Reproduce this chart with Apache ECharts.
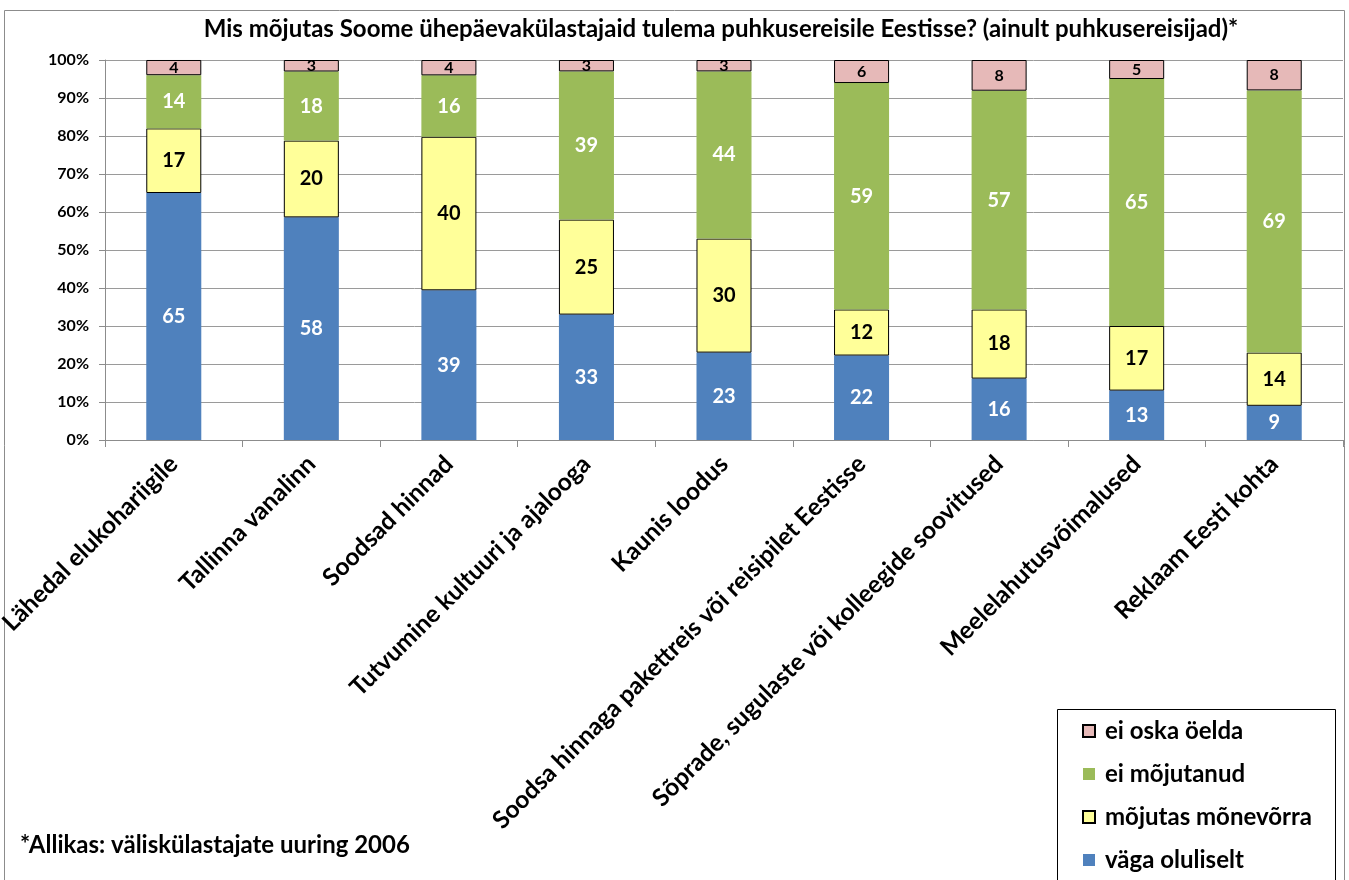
<!DOCTYPE html>
<html>
<head>
<meta charset="utf-8">
<script src="https://cdn.jsdelivr.net/npm/echarts@6/dist/echarts.min.js"></script>
<style>
  html, body { margin: 0; padding: 0; background: #fff; }
  #chart { width: 1349px; height: 880px; }
</style>
</head>
<body>
<div id="chart"></div>
<script>
const categories = [
  'Lähedal elukohariigile',
  'Tallinna vanalinn',
  'Soodsad hinnad',
  'Tutvumine kultuuri ja ajalooga',
  'Kaunis loodus',
  'Soodsa hinnaga pakettreis või reisipilet Eestisse',
  'Sõprade, sugulaste või kolleegide soovitused',
  'Meelelahutusvõimalused',
  'Reklaam Eesti kohta'
]
const vagaOluliselt = [65, 58, 39, 33, 23, 22, 16, 13, 9]
const mojutasMonevorra = [17, 20, 40, 25, 30, 12, 18, 17, 14]
const eiMojutanud = [14, 18, 16, 39, 44, 59, 57, 65, 69]
const eiOskaOelda = [4, 3, 4, 3, 3, 6, 8, 5, 8]
const yTicks = [0, 10, 20, 30, 40, 50, 60, 70, 80, 90, 100]

const FONT = 'Lato'

// 100% stack: each bar is scaled to its own total, labels keep the raw value
const totals = categories.map((c, i) =>
  vagaOluliselt[i] + mojutasMonevorra[i] + eiMojutanud[i] + eiOskaOelda[i])
const share = (arr) => arr.map((v, i) => ({ value: v / totals[i] * 100, raw: v }))

function makeSeries(name, arr, color, labelColor, labelSize, bordered) {
  return {
    name: name,
    type: 'bar',
    stack: 'total',
    barWidth: '40%',
    data: share(arr),
    itemStyle: {
      color: color,
      borderColor: bordered ? '#000' : color,
      borderWidth: bordered ? 1 : 0
    },
    label: {
      show: true,
      position: 'inside',
      color: labelColor,
      fontFamily: FONT,
      fontWeight: 'bold',
      fontSize: labelSize,
      formatter: (p) => p.data.raw
    },
    emphasis: { disabled: true }
  }
}

const chart = echarts.init(document.getElementById('chart'))
chart.setOption({
  animation: false,
  backgroundColor: '#fff',
  textStyle: { fontFamily: FONT },
  title: {
    text: 'Mis mõjutas Soome ühepäevakülastajaid tulema puhkusereisile Eestisse? (ainult puhkusereisijad)*',
    left: 716,
    top: 12,
    textAlign: 'center',
    textStyle: { fontFamily: FONT, fontWeight: 'bold', fontSize: 24, color: '#000' }
  },
  legend: {
    orient: 'vertical',
    left: 1082,
    top: 719,
    padding: 0,
    itemGap: 19,
    itemWidth: 12,
    itemHeight: 12,
    icon: 'rect',
    data: ['ei oska öelda', 'ei mõjutanud', 'mõjutas mõnevõrra', 'väga oluliselt'],
    textStyle: { fontFamily: FONT, fontWeight: 'bold', fontSize: 24, color: '#000', padding: [0, 0, 0, 5] }
  },
  grid: {
    left: 105,
    right: 6,
    top: 60,
    bottom: 440,
    containLabel: false,
    outerBoundsMode: 'none'
  },
  xAxis: {
    type: 'category',
    data: categories,
    axisLine: { lineStyle: { color: '#8c8c8c', width: 1 } },
    axisTick: { show: true, length: 7, lineStyle: { color: '#8c8c8c' } },
    axisLabel: {
      rotate: 45,
      margin: 20,
      interval: 0,
      color: '#000',
      fontFamily: FONT,
      fontWeight: 'bold',
      fontSize: 24.5
    }
  },
  yAxis: {
    type: 'value',
    min: yTicks[0],
    max: yTicks[yTicks.length - 1],
    interval: yTicks[1] - yTicks[0],
    axisLine: { show: true, lineStyle: { color: '#8c8c8c', width: 1 } },
    axisTick: { show: true, length: 6, lineStyle: { color: '#8c8c8c' } },
    splitLine: { lineStyle: { color: '#9a9a9a', width: 1 } },
    axisLabel: {
      formatter: '{value}%',
      margin: 16,
      color: '#000',
      fontFamily: FONT,
      fontWeight: 'bold',
      fontSize: 16
    }
  },
  series: [
    makeSeries('väga oluliselt', vagaOluliselt, '#4F81BD', '#fff', 20, false),
    makeSeries('mõjutas mõnevõrra', mojutasMonevorra, '#FFFF99', '#000', 20, true),
    makeSeries('ei mõjutanud', eiMojutanud, '#9BBB59', '#fff', 20, false),
    makeSeries('ei oska öelda', eiOskaOelda, '#E6B9B8', '#000', 16, true)
  ],
  graphic: [
    {
      type: 'rect',
      shape: { x: 4.5, y: 10.5, width: 1340, height: 900 },
      style: { fill: null, stroke: '#8c8c8c', lineWidth: 1 },
      silent: true,
      z: -1
    },
    {
      type: 'rect',
      shape: { x: 1057.5, y: 709.5, width: 278, height: 200 },
      style: { fill: '#fff', stroke: '#000', lineWidth: 1 },
      silent: true,
      z: 0
    },
    {
      type: 'text',
      x: 20,
      y: 845,
      style: {
        text: '*Allikas: väliskülastajate uuring 2006',
        fontFamily: FONT,
        fontWeight: 'bold',
        fontSize: 24,
        fill: '#000',
        verticalAlign: 'middle'
      }
    }
  ]
})
</script>
</body>
</html>
